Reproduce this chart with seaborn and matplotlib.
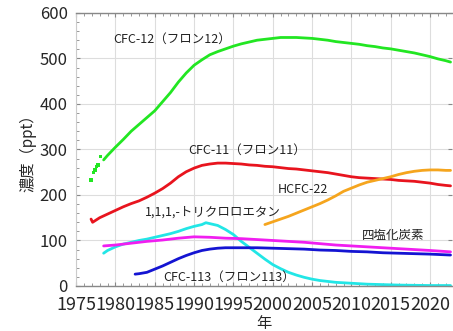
import numpy as np
import pandas as pd
import matplotlib
matplotlib.use("Agg")
import matplotlib.pyplot as plt
import seaborn as sns

# CFC-12 (green)
cfc12_years = [1978.5, 1979, 1980, 1981, 1982, 1983, 1984, 1985, 1986, 1987, 1988, 1989,
               1990, 1991, 1992, 1993, 1994, 1995, 1996, 1997, 1998, 1999, 2000, 2001,
               2002, 2003, 2004, 2005, 2006, 2007, 2008, 2009, 2010, 2011, 2012, 2013,
               2014, 2015, 2016, 2017, 2018, 2019, 2020, 2021, 2022, 2022.6]
cfc12_vals = [277, 287, 305, 322, 340, 355, 370, 385, 405, 425, 448, 468,
              485, 497, 508, 515, 521, 527, 532, 536, 540, 542, 544, 546,
              546, 546, 545, 544, 542, 540, 537, 535, 533, 531, 528, 526,
              523, 521, 518, 515, 512, 508, 504, 499, 495, 492]
# early scattered samples of CFC-12
cfc12_early_years = [1976.9, 1977.2, 1977.4, 1977.6, 1977.8, 1978.1]
cfc12_early_vals = [233, 250, 255, 262, 266, 285]

# CFC-11 (red)
cfc11_years = [1976.9, 1977.1, 1978, 1979, 1980, 1981, 1982, 1983, 1984, 1985, 1986, 1987,
               1988, 1989, 1990, 1991, 1992, 1993, 1994, 1995, 1996, 1997, 1998, 1999,
               2000, 2001, 2002, 2003, 2004, 2005, 2006, 2007, 2008, 2009, 2010, 2011,
               2012, 2013, 2014, 2015, 2016, 2017, 2018, 2019, 2020, 2021, 2022, 2022.6]
cfc11_vals = [147, 140, 150, 158, 166, 174, 181, 187, 195, 204, 214, 226,
              240, 251, 259, 265, 268, 270, 270, 269, 268, 266, 265, 263,
              262, 260, 258, 257, 255, 253, 251, 249, 246, 243, 240, 238,
              237, 236, 235, 234, 232, 231, 230, 228, 226, 223, 221, 220]

# HCFC-22 (orange)
hcfc22_years = [1999, 2000, 2001, 2002, 2003, 2004, 2005, 2006, 2007, 2008, 2009, 2010,
                2011, 2012, 2013, 2014, 2015, 2016, 2017, 2018, 2019, 2020, 2021, 2022, 2022.6]
hcfc22_vals = [135, 141, 147, 153, 160, 167, 174, 181, 189, 198, 208, 215,
               222, 228, 232, 236, 240, 245, 249, 252, 254, 255, 255, 254, 254]

# 1,1,1-trichloroethane (cyan)
tce_years = [1978.5, 1979, 1980, 1981, 1982, 1983, 1984, 1985, 1986, 1987, 1988, 1989,
             1990, 1991, 1991.5, 1992, 1993, 1994, 1995, 1996, 1997, 1998, 1999, 2000,
             2001, 2002, 2003, 2004, 2005, 2006, 2007, 2008, 2009, 2010, 2011, 2012,
             2013, 2014, 2015, 2016, 2018, 2020, 2022.6]
tce_vals = [72, 78, 86, 92, 96, 100, 103, 107, 111, 115, 120, 126,
            131, 135, 139, 137, 133, 124, 113, 98, 85, 72, 59, 47,
            38, 30, 24, 19, 15, 12, 10, 8, 7, 6, 5, 4,
            3.5, 3, 2.5, 2, 1.5, 1, 1]

# carbon tetrachloride (magenta)
ccl4_years = [1978.5, 1980, 1982, 1984, 1986, 1988, 1990, 1992, 1994, 1996, 1998, 2000,
              2002, 2004, 2006, 2008, 2010, 2012, 2014, 2016, 2018, 2020, 2022.6]
ccl4_vals = [88, 90, 94, 98, 101, 105, 108, 107, 105, 104, 102, 100,
             98, 96, 93, 90, 88, 86, 84, 82, 80, 78, 75]

# CFC-113 (blue)
cfc113_years = [1982.5, 1983, 1984, 1985, 1986, 1987, 1988, 1989, 1990, 1991, 1992, 1993,
                1994, 1995, 1996, 1997, 1998, 2000, 2002, 2004, 2006, 2008, 2010, 2012,
                2014, 2016, 2018, 2020, 2022.6]
cfc113_vals = [26, 27, 30, 37, 44, 52, 60, 67, 73, 78, 81, 83,
               84, 84, 84, 84, 84, 83, 82, 81, 79, 78, 76, 75,
               73, 72, 71, 70, 68]

x_ticks = [1975, 1980, 1985, 1990, 1995, 2000, 2005, 2010, 2015, 2020]
y_ticks = [0, 100, 200, 300, 400, 500, 600]

sns.set_style("whitegrid")
plt.rcParams['font.family'] = ['Noto Sans CJK JP', 'DejaVu Sans']

fig, ax = plt.subplots(figsize=(4.53, 3.31), dpi=100)
fig.subplots_adjust(left=0.168, right=0.998, bottom=0.136, top=0.961)

series = [
    (cfc12_years, cfc12_vals, "#22e622"),
    (cfc11_years, cfc11_vals, "#e8141e"),
    (hcfc22_years, hcfc22_vals, "#f5a51e"),
    (tce_years, tce_vals, "#22e6e6"),
    (ccl4_years, ccl4_vals, "#f01ef0"),
    (cfc113_years, cfc113_vals, "#1414d2"),
]
for yrs, vals, col in series:
    sns.lineplot(x=yrs, y=vals, color=col, linewidth=2.0, ax=ax)
sns.scatterplot(x=cfc12_early_years, y=cfc12_early_vals, color="#22e622",
                s=6, marker="s", edgecolor="none", ax=ax)

# labels
lab_kw = dict(fontsize=9, color="#222222", va="center", ha="left")
ax.text(1979.7, 541, "CFC-12（フロン12）", **lab_kw)
ax.text(1989.3, 299, "CFC-11（フロン11）", **lab_kw)
ax.text(2000.6, 211, "HCFC-22", **lab_kw)
ax.text(1983.7, 163, "1,1,1,-トリクロロエタン", **lab_kw)
ax.text(2011.3, 112, "四塩化炭素", **lab_kw)
ax.text(1986.1, 20, "CFC-113（フロン113）", **lab_kw)

ax.set_xlim(1975, 2022.8)
ax.set_ylim(0, 600)
ax.set_xticks(x_ticks)
ax.set_yticks(y_ticks)
ax.set_xticks(np.arange(1975, 2023, 1), minor=True)
ax.set_yticks(np.arange(0, 601, 20), minor=True)
ax.tick_params(axis="both", which="major", length=3, direction="in",
               color="#888888", top=True, bottom=True, left=True, right=True)
ax.tick_params(axis="both", which="minor", length=2, direction="in",
               color="#888888", top=True, bottom=True, left=True, right=False)
ax.tick_params(axis="x", which="major", labelsize=13, pad=7)
ax.tick_params(axis="y", which="major", labelsize=12, pad=6)
ax.grid(True, which="major", color="#dddddd", linewidth=0.8)
ax.grid(False, which="minor")

for side in ["top", "bottom"]:
    ax.spines[side].set_color("#888888")
    ax.spines[side].set_linewidth(1.0)
ax.spines["left"].set_color("#cccccc")
ax.spines["right"].set_visible(False)

ax.set_xlabel("年", fontsize=11, labelpad=1)
ax.set_ylabel("濃度（ppt）", fontsize=11, labelpad=2)

fig.savefig("out.png", dpi=100)
